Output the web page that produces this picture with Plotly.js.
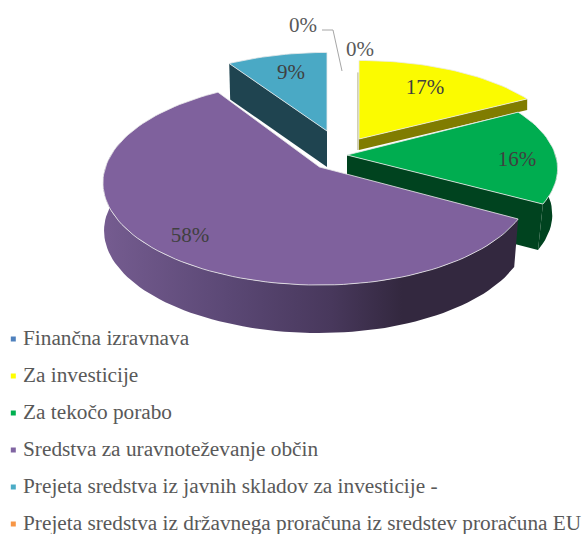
<!DOCTYPE html>
<html>
<head>
<meta charset="utf-8">
<script src="https://cdn.plot.ly/plotly-3.0.1.min.js"></script>
<style>html,body{margin:0;padding:0;background:#fff}#chart{width:583px;height:534px}</style>
</head>
<body>
<div id="chart"></div>
<script>
// ---- data ----
const categories = [
  "Finančna izravnava",
  "Za investicije",
  "Za tekočo porabo",
  "Sredstva za uravnoteževanje občin",
  "Prejeta sredstva iz javnih skladov za investicije -",
  "Prejeta sredstva iz državnega proračuna iz sredstev proračuna EU"
];
const values = [0, 17, 16, 58, 9, 0];

// ---- styles ----
const swatches = ["#4f81bd", "#ffff00", "#00b050", "#8064a2", "#4bacc6", "#f79646"];
const topColors = ["#4f81bd", "#fbfb00", "#00ad50", "#7f619d", "#4aa9c5", "#f79646"];
const wallColors = ["#2a4560", "#807c00", "#00431f", "#32273f", "#1f4450", "#7a4a20"];

// ---- layout of the tilted, exploded disc (pixels, axes cover the page) ----
const FONT = "Liberation Serif";
const geometry = [
  null,
  {ax: 359, ay: 139, A: 203, AL: 203, B: 88,  k: .12, depth: 11, f: 1, fL: 1},
  {ax: 347, ay: 155, A: 208.5, AL: 208.5, B: 95,  k: .14, depth: 46, f: .975, fL: .975},
  {ax: 319.5, ay: 167, A: 210, AL: 214, B: 100, k: .153, depth: 48, f: .98, fL: .995},
  {ax: 327, ay: 131, A: 201, AL: 201, B: 88,  k: .12, depth: 36, f: .99, fL: .99},
  null
];
const labelPos = [[303, 27], [360, 51], [425, 89], [517, 161], [190, 237], [291, 74]];
const leaderX = [322, 333, 342], leaderY = [30, 30, 71];
const legendTop = 340, legendStep = 37, legendMarkerX = 13.3, legendTextX = 23;

function project(g, deg, bottom) {
  const a = deg * Math.PI / 180, u = Math.sin(a), v = -Math.cos(a), w = 1 - g.k * v;
  const shrink = bottom ? (u < 0 ? g.fL : g.f) : 1;
  return [g.ax + shrink * (u < 0 ? g.AL : g.A) * u / w, g.ay + g.B * v / w + (bottom ? g.depth : 0)];
}
function arc(g, a0, a1, bottom) {
  const n = Math.max(2, Math.ceil(Math.abs(a1 - a0) / 2)), pts = [];
  for (let i = 0; i <= n; i++) pts.push(project(g, a0 + (a1 - a0) * i / n, bottom));
  return pts;
}
function poly(pts, color, edge, extra) {
  return Object.assign({
    type: "scatter", mode: "lines", hoverinfo: "skip", showlegend: false,
    x: pts.map(p => p[0]), y: pts.map(p => p[1]),
    fill: "toself", fillcolor: color,
    line: edge ? {color: edge, width: 1} : {width: 0, color: color}
  }, extra || {});
}

// cumulative angles, clockwise from 12 o'clock
const total = values.reduce((s, v) => s + v, 0);
const angles = [];
values.reduce((acc, v, i) => { angles[i] = [acc, acc + v / total * 360]; return acc + v / total * 360; }, 0);

function topFace(i) {
  const g = geometry[i], [a0, a1] = angles[i];
  return poly([[g.ax, g.ay]].concat(arc(g, a0, a1, false), [[g.ax, g.ay]]), topColors[i], "rgba(235,235,235,0.8)");
}
function cutWall(i, deg) {
  const g = geometry[i], c = project(g, deg, false), d = project(g, deg, true);
  return poly([[g.ax, g.ay], c, d, [g.ax + 0, g.ay + g.depth]], wallColors[i], null);
}
function rimWall(i, a0, a1, extra) {
  const g = geometry[i];
  return poly(arc(g, a0, a1, false).concat(arc(g, a1, a0, true)), wallColors[i], null, extra);
}

const [Y, G, P, B] = [1, 2, 3, 4];
const yg = geometry[Y];
const yTop = project(yg, angles[Y][0], false);
const traces = [
  cutWall(Y, angles[Y][1]),
  {type: "scatter", mode: "lines", hoverinfo: "skip", showlegend: false,
   x: [yTop[0] - 1, yg.ax - 1], y: [yTop[1] + 12, yg.ay + yg.depth],
   line: {color: "#a3a270", width: 1}},
  topFace(Y),
  cutWall(B, angles[B][0]),
  topFace(B),
  rimWall(G, angles[G][1], 85),
  cutWall(G, angles[G][1]),
  topFace(G),
  rimWall(P, angles[P][0], 285, {
    fillgradient: {type: "horizontal", colorscale: [
      [0, "#755c90"], [.3, "#5b4875"], [.55, "#48385c"], [.72, "#33283f"], [1, "#33283f"]
    ]}
  }),
  topFace(P),
  // leader line of the first 0% label
  {type: "scatter", mode: "lines", hoverinfo: "skip", showlegend: false,
   x: leaderX, y: leaderY, line: {color: "#a6a6a6", width: 1}},
  // percentage labels
  {type: "scatter", mode: "text", hoverinfo: "skip", showlegend: false,
   x: labelPos.map(p => p[0]), y: labelPos.map(p => p[1]),
   text: [values[0], values[5], values[1], values[2], values[3], values[4]].map(v => v + "%"),
   textposition: "middle center",
   textfont: {family: FONT, size: 21, color: ["#595959", "#595959", "#404040", "#404040", "#404040", "#404040"]}},
  // legend, drawn beneath the pie the way the source lays it out
  {type: "scatter", mode: "markers", hoverinfo: "skip", showlegend: false,
   x: categories.map(() => legendMarkerX), y: categories.map((c, i) => legendTop - 1 + i * legendStep),
   marker: {symbol: "square", size: 5, color: swatches, line: {width: 0}}},
  {type: "scatter", mode: "text", hoverinfo: "skip", showlegend: false,
   x: categories.map(() => legendTextX), y: categories.map((c, i) => legendTop + i * legendStep),
   text: categories, textposition: "middle right",
   textfont: {family: FONT, size: 21.3, color: "#595959"}}
];

Plotly.newPlot("chart", traces, {
  width: 583, height: 534, margin: {l: 0, r: 0, t: 0, b: 0},
  paper_bgcolor: "#fff", plot_bgcolor: "#fff", showlegend: false,
  xaxis: {range: [0, 583], visible: false, fixedrange: true},
  yaxis: {range: [534, 0], visible: false, fixedrange: true}
}, {displayModeBar: false, staticPlot: true});
</script>
</body>
</html>
